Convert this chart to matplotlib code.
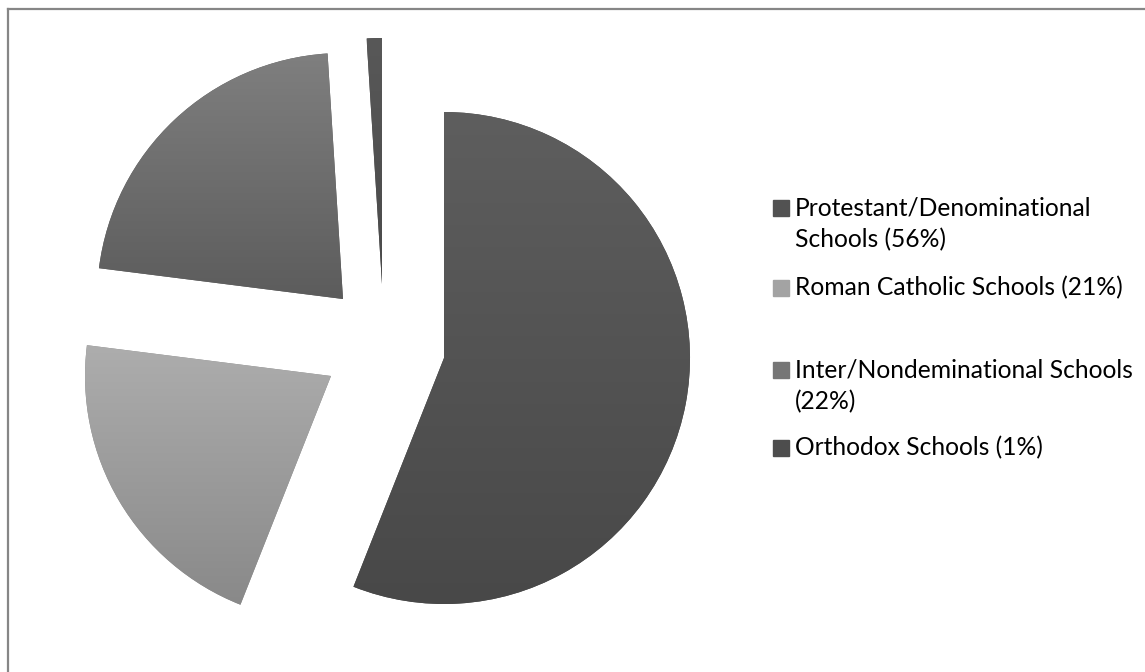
import numpy as np
import matplotlib.pyplot as plt
from matplotlib.patches import Rectangle
from matplotlib.colors import LinearSegmentedColormap

categories = ['Protestant/Denominational Schools', 'Roman Catholic Schools',
              'Inter/Nondeminational Schools', 'Orthodox Schools']
shares = [56, 21, 22, 1]
legend_labels = ['Protestant/Denominational\nSchools (56%)',
                 'Roman Catholic Schools (21%)',
                 'Inter/Nondeminational Schools\n(22%)',
                 'Orthodox Schools (1%)']

top_colors = ['#5e5e5e', '#adadad', '#7f7f7f', '#585858']
bottom_colors = ['#484848', '#898989', '#5c5c5c', '#4a4a4a']
legend_colors = ['#525252', '#a3a3a3', '#767676', '#4d4d4d']

W, H = 1145, 672
fig = plt.figure(figsize=(W / 100, H / 100), dpi=100)
ax = fig.add_axes([0, 0, 1, 1])

cx, cy, r = 444, H - 358, 246
# exploded slices, offsets in pixels (x right, y up)
offsets = [(0, 0), (-113, -18), (-101, 59), (-62, 74)]

wedges, _ = ax.pie(shares, startangle=90, counterclock=False,
                   center=(cx, cy), radius=r, colors=bottom_colors)

grad = np.linspace(0, 1, 256).reshape(-1, 1)
for w, (dx, dy), c0, c1 in zip(wedges, offsets, top_colors, bottom_colors):
    w.set_center((cx + dx, cy + dy))
    verts = w.get_path().vertices
    x0, y0 = verts.min(axis=0)
    x1, y1 = verts.max(axis=0)
    cmap = LinearSegmentedColormap.from_list('g', [c0, c1])
    im = ax.imshow(grad, extent=(x0, x1, y0, y1), origin='upper',
                   cmap=cmap, aspect='auto', zorder=2)
    im.set_clip_path(w)

ax.set_xlim(0, W)
ax.set_ylim(0, H)
ax.set_aspect('equal')
ax.axis('off')

# legend drawn by hand so the marker sits on the first line
marker_y = [208, 288, 370, 448]
text_y = [224, 288, 386, 448]
for lab, col, my, ty in zip(legend_labels, legend_colors, marker_y, text_y):
    ax.add_patch(Rectangle((773, H - my - 8), 16, 16, color=col, zorder=3))
    ax.text(795, H - ty, lab, va='center', ha='left', fontsize=17.7,
            family='Lato', color='#000000', linespacing=1.42, zorder=3)

# chart frame
ax.plot([8, 8], [0, H - 9], color='#868686', lw=1.6, solid_capstyle='projecting')
ax.plot([8, W], [H - 9, H - 9], color='#868686', lw=1.6, solid_capstyle='projecting')

fig.savefig('out.png', dpi=100)
